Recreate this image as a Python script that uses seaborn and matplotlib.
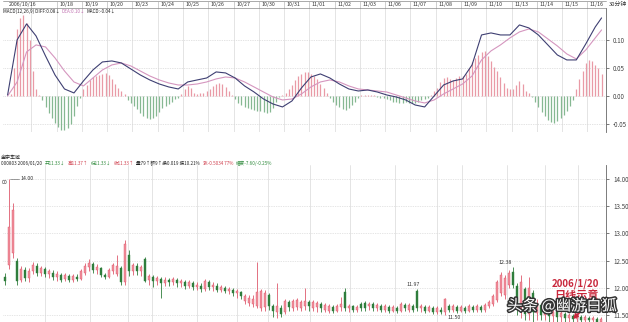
import matplotlib
matplotlib.use("Agg")
import matplotlib.pyplot as plt
import matplotlib.patheffects as pe
import matplotlib.transforms as mtrans
import pandas as pd
import seaborn as sns

# ---------------- data ----------------
date_labels = ["2006/10/16", "", "10/18", "10/19", "10/20", "10/23", "10/24", "10/25",
               "10/26", "10/27", "10/30", "10/31", "11/01", "11/02", "11/03", "11/06",
               "11/07", "11/08", "11/09", "11/10", "11/13", "11/14", "11/15", "11/16"]
bars_per_day = 8

macd_hist = [0.0, 0.004, 0.05, 0.12, 0.14, 0.145, 0.13, 0.10, 0.045, 0.012,
             0.002, -0.008, -0.02, -0.03, -0.04, -0.048, -0.055, -0.06, -0.061, -0.058,
             -0.05, -0.036, -0.018, -0.004, 0.012, 0.02, 0.028, 0.033, 0.036, 0.038,
             0.04, 0.041, 0.038, 0.03, 0.022, 0.014, 0.008, 0.003, -0.008, -0.012,
             -0.018, -0.024, -0.03, -0.035, -0.039, -0.041, -0.04, -0.035, -0.028, -0.022,
             -0.018, -0.014, -0.01, -0.006, -0.003, 0.004, 0.012, 0.018, 0.014, 0.006,
             0.004, 0.005, 0.006, 0.008, 0.012, 0.018, 0.022, 0.024, 0.022, 0.016,
             0.008, 0.002, -0.006, -0.012, -0.016, -0.02, -0.022, -0.024, -0.025, -0.026,
             -0.027, -0.028, -0.03, -0.029, -0.022, -0.01, -0.002, 0.002, 0.006, 0.012,
             0.02, 0.028, 0.035, 0.04, 0.042, 0.042, 0.04, 0.036, 0.03, 0.022,
             0.014, 0.006, -0.004, -0.01, -0.016, -0.02, -0.024, -0.025, -0.022, -0.016,
             -0.01, -0.004, 0.002, 0.002, 0.001, 0.002, 0.001, -0.002, -0.003, -0.004,
             -0.006, -0.008, -0.01, -0.011, -0.012, -0.012, -0.011, -0.012, -0.013, -0.012,
             -0.01, -0.008, -0.006, -0.003, 0.002, 0.008, 0.015, 0.025, 0.032, 0.034,
             0.03, 0.028, 0.032, 0.036, 0.035, 0.04, 0.05, 0.06, 0.068, 0.074,
             0.078, 0.08, 0.072, 0.062, 0.052, 0.044, 0.034, 0.024, 0.015, 0.012,
             0.013, 0.02, 0.027, 0.022, 0.008, 0.005, -0.002, -0.01, -0.02, -0.028,
             -0.036, -0.042, -0.046, -0.049, -0.045, -0.04, -0.034, -0.026, -0.018, -0.008,
             0.012, 0.03, 0.045, 0.058, 0.064, 0.062, 0.056, 0.05, 0.04]

line_bars = list(range(0, 187, 3)) + [188]
diff_vals = [0.0018, 0.100, 0.1286, 0.1071, 0.0714, 0.0375, 0.0125, 0.0054, 0.0268, 0.0464,
             0.0607, 0.0625, 0.0589, 0.0482, 0.0375, 0.0286, 0.0214, 0.0161, 0.0125, 0.0250,
             0.0286, 0.0321, 0.0429, 0.0411, 0.0321, 0.0179, 0.0071, -0.0054, -0.0143, -0.0196,
             -0.0089, 0.0143, 0.0339, 0.0393, 0.0321, 0.0214, 0.0125, 0.0089, 0.0107, 0.0071,
             0.0018, -0.0018, -0.0071, -0.0161, -0.0196, 0.0, 0.0196, 0.0268, 0.0304, 0.0554,
             0.1089, 0.1125, 0.1089, 0.1089, 0.1268, 0.1214, 0.1089, 0.0911, 0.0732, 0.0643,
             0.0643, 0.0929, 0.1232, 0.1393]
dea_vals = [0.0, 0.025, 0.0786, 0.0911, 0.0875, 0.0679, 0.0446, 0.025, 0.0179, 0.0321,
            0.0464, 0.0554, 0.0589, 0.0536, 0.0446, 0.0357, 0.0286, 0.0232, 0.0196, 0.0196,
            0.0214, 0.025, 0.0304, 0.0339, 0.0321, 0.025, 0.0161, 0.0071, -0.0018, -0.0071,
            -0.0054, 0.0036, 0.0161, 0.025, 0.0286, 0.025, 0.0179, 0.0125, 0.0107, 0.0089,
            0.0071, 0.0018, -0.0036, -0.0089, -0.0125, -0.0071, 0.0036, 0.0125, 0.0214, 0.0357,
            0.0643, 0.0804, 0.0911, 0.1036, 0.1143, 0.1196, 0.1143, 0.1018, 0.0893, 0.075,
            0.0661, 0.0821, 0.1036, 0.1179]
macd_ticks = [-0.05, 0.0, 0.05, 0.10]

opens = [12.20, 12.42, 12.64, 12.50, 12.15, 12.33, 12.18, 12.30, 12.40, 12.28,
         12.34, 12.25, 12.28, 12.20, 12.24, 12.16, 12.22, 12.14, 12.20, 12.17,
         12.28, 12.38, 12.44, 12.32, 12.36, 12.24, 12.20, 12.30, 12.26, 12.36,
         12.10, 12.60, 12.30, 12.40, 12.30, 12.52, 12.14, 12.20, 12.12, 12.16,
         12.08, 12.14, 12.10, 12.15, 12.08, 12.10, 12.04, 12.08, 12.02, 12.04,
         11.98, 12.10, 12.02, 12.04, 11.96, 12.00, 11.94, 11.96, 11.90, 11.92,
         11.76, 11.72, 11.70, 11.66, 11.62, 11.64, 11.86, 11.66, 11.56, 11.62,
         11.56, 11.74, 11.62, 11.64, 11.62, 11.66, 11.74, 11.62, 11.64, 11.70,
         11.60, 11.58, 11.64, 11.58, 11.64, 11.92, 11.62, 11.66, 11.60, 11.70,
         11.72, 11.66, 11.70, 11.62, 11.66, 11.60, 11.64, 11.58, 11.62, 11.58,
         11.68, 11.60, 11.66, 11.94, 11.62, 11.64, 11.58, 11.62, 11.56, 11.60,
         11.56, 11.66, 11.60, 11.64, 11.58, 11.62, 11.58, 11.64, 11.60, 11.64,
         11.60, 11.66, 11.70, 11.78, 11.90, 11.86, 12.06, 12.29, 12.04, 11.62,
         11.98, 11.52, 11.90, 11.54, 11.68, 11.50, 11.60, 11.48, 11.56, 11.46,
         11.52, 11.44, 11.48, 11.42, 11.46, 11.40, 11.44, 11.40, 11.42, 11.38]
closes = [12.12, 13.12, 13.43, 12.12, 12.35, 12.18, 12.30, 12.42, 12.28, 12.36,
          12.25, 12.30, 12.20, 12.26, 12.15, 12.24, 12.14, 12.22, 12.16, 12.30,
          12.40, 12.46, 12.32, 12.38, 12.24, 12.20, 12.32, 12.42, 12.40, 12.10,
          12.80, 12.30, 12.42, 12.30, 12.38, 12.12, 12.22, 12.12, 12.18, 12.08,
          12.15, 12.10, 12.16, 12.08, 12.12, 12.04, 12.10, 12.02, 12.06, 11.98,
          12.12, 12.02, 12.06, 11.96, 12.02, 11.94, 11.98, 11.90, 11.94, 11.84,
          11.84, 11.82, 11.80, 11.92, 11.94, 11.90, 11.66, 11.58, 11.66, 11.52,
          11.76, 11.64, 11.76, 11.78, 11.74, 11.76, 11.66, 11.74, 11.72, 11.62,
          11.68, 11.66, 11.58, 11.66, 11.70, 11.62, 11.66, 11.60, 11.64, 11.62,
          11.62, 11.70, 11.62, 11.68, 11.60, 11.66, 11.58, 11.64, 11.58, 11.70,
          11.62, 11.68, 11.60, 11.62, 11.66, 11.58, 11.64, 11.56, 11.62, 11.56,
          11.80, 11.60, 11.66, 11.58, 11.64, 11.58, 11.66, 11.60, 11.66, 11.60,
          11.68, 11.74, 11.84, 12.10, 12.24, 12.18, 12.28, 12.05, 11.70, 12.10,
          11.52, 12.00, 11.56, 11.70, 11.50, 11.62, 11.48, 11.56, 11.46, 11.54,
          11.44, 11.50, 11.42, 11.48, 11.40, 11.46, 11.40, 11.44, 11.38, 11.42]
highs = [12.28, 14.00, 13.55, 12.55, 12.40, 12.38, 12.36, 12.48, 12.45, 12.40,
         12.38, 12.34, 12.32, 12.30, 12.28, 12.28, 12.26, 12.26, 12.25, 12.34,
         12.45, 12.52, 12.48, 12.44, 12.38, 12.28, 12.36, 12.46, 12.60, 12.40,
         12.88, 12.70, 12.46, 12.45, 12.42, 12.56, 12.26, 12.24, 12.22, 12.20,
         12.20, 12.18, 12.20, 12.18, 12.16, 12.14, 12.14, 12.12, 12.10, 12.08,
         12.16, 12.14, 12.10, 12.08, 12.06, 12.04, 12.02, 12.00, 11.98, 11.95,
         11.88, 11.86, 11.86, 12.47, 11.98, 11.96, 11.90, 11.70, 12.09, 11.68,
         11.80, 11.78, 11.80, 11.82, 11.78, 12.00, 11.78, 11.78, 11.76, 11.74,
         11.72, 11.70, 11.68, 11.70, 11.83, 12.00, 11.70, 11.68, 11.68, 11.74,
         11.75, 11.74, 11.73, 11.72, 11.70, 11.70, 11.68, 11.68, 11.66, 11.74,
         11.72, 11.72, 11.70, 11.97, 11.70, 11.68, 11.68, 11.66, 11.66, 11.64,
         11.82, 11.70, 11.70, 11.68, 11.68, 11.66, 11.70, 11.68, 11.70, 11.68,
         11.72, 11.78, 11.88, 12.15, 12.29, 12.24, 12.32, 12.38, 12.08, 12.24,
         12.02, 12.20, 11.96, 11.80, 11.72, 11.66, 11.64, 11.60, 11.60, 11.58,
         11.56, 11.54, 11.52, 11.52, 11.50, 11.50, 11.48, 11.48, 11.46, 11.46]
lows = [12.05, 12.35, 12.55, 12.05, 12.10, 12.12, 12.10, 12.25, 12.22, 12.22,
        12.20, 12.18, 12.14, 12.12, 12.10, 12.12, 12.10, 12.10, 12.12, 12.14,
        12.24, 12.30, 12.28, 12.26, 12.20, 12.16, 12.18, 12.26, 12.22, 12.05,
        12.05, 12.22, 12.24, 12.24, 12.22, 12.10, 12.05, 12.02, 12.06, 11.82,
        12.04, 12.04, 12.05, 12.02, 12.02, 11.98, 11.99, 11.96, 11.96, 11.93,
        11.95, 11.96, 11.95, 11.92, 11.92, 11.90, 11.88, 11.84, 11.82, 11.80,
        11.70, 11.66, 11.65, 11.62, 11.58, 11.58, 11.60, 11.46, 11.44, 11.46,
        11.52, 11.58, 11.58, 11.60, 11.58, 11.60, 11.58, 11.58, 11.56, 11.56,
        11.55, 11.54, 11.54, 11.55, 11.58, 11.58, 11.56, 11.56, 11.55, 11.58,
        11.58, 11.60, 11.58, 11.58, 11.56, 11.56, 11.54, 11.55, 11.54, 11.56,
        11.58, 11.56, 11.56, 11.58, 11.56, 11.54, 11.55, 11.52, 11.52, 11.52,
        11.50, 11.55, 11.56, 11.54, 11.55, 11.54, 11.55, 11.56, 11.56, 11.55,
        11.56, 11.62, 11.66, 11.74, 11.84, 11.80, 12.00, 12.00, 11.50, 11.45,
        11.40, 11.40, 11.38, 11.40, 11.40, 11.40, 11.38, 11.38, 11.38, 11.38,
        11.37, 11.37, 11.37, 11.37, 11.37, 11.37, 11.37, 11.37, 11.37, 11.37]
price_ticks = [11.5, 12.0, 12.5, 13.0, 13.5, 14.0]
month_grid = [10, 21.25, 30.75, 36.75, 48, 58, 65.75, 76.25, 86.25, 97.5,
              108, 114.25, 125.5, 135, 143.25]

# ---------------- style ----------------
sns.set_theme(style="white")
plt.rcParams["font.family"] = ["Noto Sans CJK SC", "DejaVu Sans"]
plt.rcParams["axes.unicode_minus"] = False

W, H = 628, 322
fig = plt.figure(figsize=(W / 100, H / 100), dpi=100)
fig.patch.set_facecolor("white")
renderer = fig.canvas.get_renderer()


def rect(x0, y0, x1, y1):
    return [x0 / W, 1 - y1 / H, (x1 - x0) / W, (y1 - y0) / H]


def ftext(x, y, s, **kw):
    kw.setdefault("fontsize", 4)
    kw.setdefault("va", "center")
    kw.setdefault("ha", "left")
    return fig.text(x / W, 1 - y / H, s, **kw)


def chain(x, y, pieces, fs, gap=1.5):
    for s, c in pieces:
        t = ftext(x, y, s, color=c, fontsize=fs)
        bb = t.get_window_extent(renderer=renderer)
        x = bb.x1 + gap


PINK = "#e99aa6"
GREEN = "#86b892"
GRID = "#d9d9d9"
AXC = "#666666"

# ---------------- MACD panel ----------------
ax1 = fig.add_axes(rect(3, 8, 606, 132))
n_bars = len(macd_hist)
hist_df = pd.DataFrame({"bar": range(n_bars), "macd": macd_hist})
ax1.vlines(hist_df["bar"], 0, hist_df["macd"],
           colors=[PINK if v >= 0 else GREEN for v in macd_hist], lw=0.9, zorder=2)
lines_df = pd.DataFrame({"bar": line_bars, "DIFF": diff_vals, "DEA": dea_vals})
sns.lineplot(data=lines_df, x="bar", y="DEA", ax=ax1, color="#d596bf", lw=0.8, zorder=3)
sns.lineplot(data=lines_df, x="bar", y="DIFF", ax=ax1, color="#3e3f72", lw=0.8, zorder=4)
ax1.set_xlim(-1.46, 189.4)
ax1.set_ylim(-0.0643, 0.157)
for v in macd_ticks:
    ax1.axhline(v, color="#c8c8c8", lw=0.5, ls=(0, (1, 1.5)), zorder=1)
for k in range(1, len(date_labels)):
    ax1.axvline(k * bars_per_day - 0.5, color=GRID, lw=0.5, zorder=1)
ax1.set_xlabel("")
ax1.set_ylabel("")
ax1.set_xticks([])
ax1.yaxis.tick_right()
ax1.set_yticks(macd_ticks)
ax1.set_yticklabels([f"{v:.2f}" for v in macd_ticks])
ax1.tick_params(axis="y", labelsize=4.5, length=2, width=0.5, pad=3,
                colors="#444444", right=True)
for s in ["left", "bottom"]:
    ax1.spines[s].set_visible(False)
ax1.spines["right"].set_color(AXC)
ax1.spines["right"].set_linewidth(0.6)
ax1.spines["top"].set_color("#888888")
ax1.spines["top"].set_linewidth(0.5)

# date strip above the MACD panel
blend = mtrans.blended_transform_factory(ax1.transData, ax1.transAxes)
strip_top = 1 + 7 / 124
ax1.plot([-1.46, 189.4], [strip_top, strip_top], transform=blend, color="#888888",
         lw=0.5, clip_on=False)
for k, lab in enumerate(date_labels):
    xk = k * bars_per_day - 0.5
    if k > 0:
        ax1.plot([xk, xk], [1, strip_top], transform=blend, color="#aaaaaa", lw=0.4,
                 clip_on=False)
    ax1.text(xk + 0.8, 1 + 3.5 / 124, lab, transform=blend, fontsize=3.8,
             color="#333333", va="center", ha="left")
ftext(609, 4, "30分钟", fontsize=4.2, color="#333333")
chain(3, 11.5, [("MACD(12,26,9) DIFF:0.08↓", "#222222"),
                ("DEA:0.10↓", "#c070b0"),
                ("MACD:-0.04↓", "#222222")], fs=3.3)

# ---------------- candlestick panel ----------------
ax2 = fig.add_axes(rect(3, 165, 606, 322))
cdf = pd.DataFrame({"open": opens, "close": closes, "high": highs, "low": lows})
cdf["idx"] = range(len(cdf))
cdf["up"] = cdf["close"] >= cdf["open"]
cdf["bot"] = cdf[["open", "close"]].min(axis=1)
cdf["h"] = (cdf["close"] - cdf["open"]).abs().clip(lower=0.012)
RED_E, RED_F, GRN = "#de5a6c", "#f08e9b", "#2f7d3c"
ax2.vlines(cdf["idx"], cdf["low"], cdf["high"],
           colors=[RED_E if u else GRN for u in cdf["up"]], lw=0.6, zorder=3)
ax2.bar(cdf["idx"], cdf["h"], bottom=cdf["bot"], width=0.62,
        color=[RED_F if u else GRN for u in cdf["up"]],
        edgecolor=[RED_E if u else GRN for u in cdf["up"]], linewidth=0.3, zorder=4)
ax2.set_xlim(-0.5, 150.25)
ax2.set_ylim(11.371, 14.257)
for v in price_ticks:
    ax2.axhline(v, color="#cccccc", lw=0.5, ls=(0, (1, 1.5)), zorder=1)
for g in month_grid:
    ax2.axvline(g, color=GRID, lw=0.5, zorder=1)
ax2.set_xticks([])
ax2.yaxis.tick_right()
ax2.set_yticks(price_ticks)
ax2.set_yticklabels([f"{v:.2f}" for v in price_ticks])
ax2.tick_params(axis="y", labelsize=4.5, length=2, width=0.5, pad=3,
                colors="#444444", right=True)
for s in ["left", "bottom", "top"]:
    ax2.spines[s].set_visible(False)
ax2.spines["right"].set_color(AXC)
ax2.spines["right"].set_linewidth(0.6)

# price marks
ax2.plot([1.2, 3.6], [14.0, 14.0], color="#555555", lw=0.4)
ax2.text(3.8, 14.0, "14.00", fontsize=3.8, color="#333333", va="center", ha="left")
ax2.text(102.0, 12.02, "11.97", fontsize=3.8, color="#333333", va="bottom", ha="center")
ax2.text(112.2, 11.445, "11.50", fontsize=3.8, color="#333333", va="center", ha="center")
ax2.text(125.0, 12.41, "12.38", fontsize=3.8, color="#333333", va="bottom", ha="center")
ftext(2, 182, "00", fontsize=3.8, color="#333333")

# header of price panel
ftext(1, 157.5, "金宇车城", fontsize=3.6, color="#222222")
chain(1, 163.5, [("000803 2006/01/20", "#222222"),
                 ("开11.33↓", "#2f8a3c"),
                 ("高11.37↑", "#d0404e"),
                 ("低11.33↓", "#2f8a3c"),
                 ("收11.33↑", "#d0404e"),
                 ("量79↑额9↑换0.019 振10.21%", "#222222"),
                 ("涨-0.5034 77%", "#d0404e"),
                 ("幅度-7.60/-0.25%", "#2f8a3c")], fs=3.3, gap=2.5)

# red annotation + watermark
ftext(575, 284, "2006/1/20", fontsize=7, color="#c8283c", ha="center",
      fontweight="bold")
ftext(576, 295, "日线示意", fontsize=8, color="#c8283c", ha="center",
      fontweight="bold")
fig.add_artist(matplotlib.patches.FancyArrowPatch(
    (583 / W, 1 - 309 / H), (571 / W, 1 - 321 / H), transform=fig.transFigure,
    arrowstyle="-|>", mutation_scale=6, color="#c8283c", lw=1.4))
wm = ftext(562, 306, "头条 @幽游白狐", fontsize=11, color="white", ha="center",
           zorder=10)
wm.set_path_effects([pe.withStroke(linewidth=2.2, foreground="#333333")])

fig.savefig("out.png", dpi=100, facecolor="white")
